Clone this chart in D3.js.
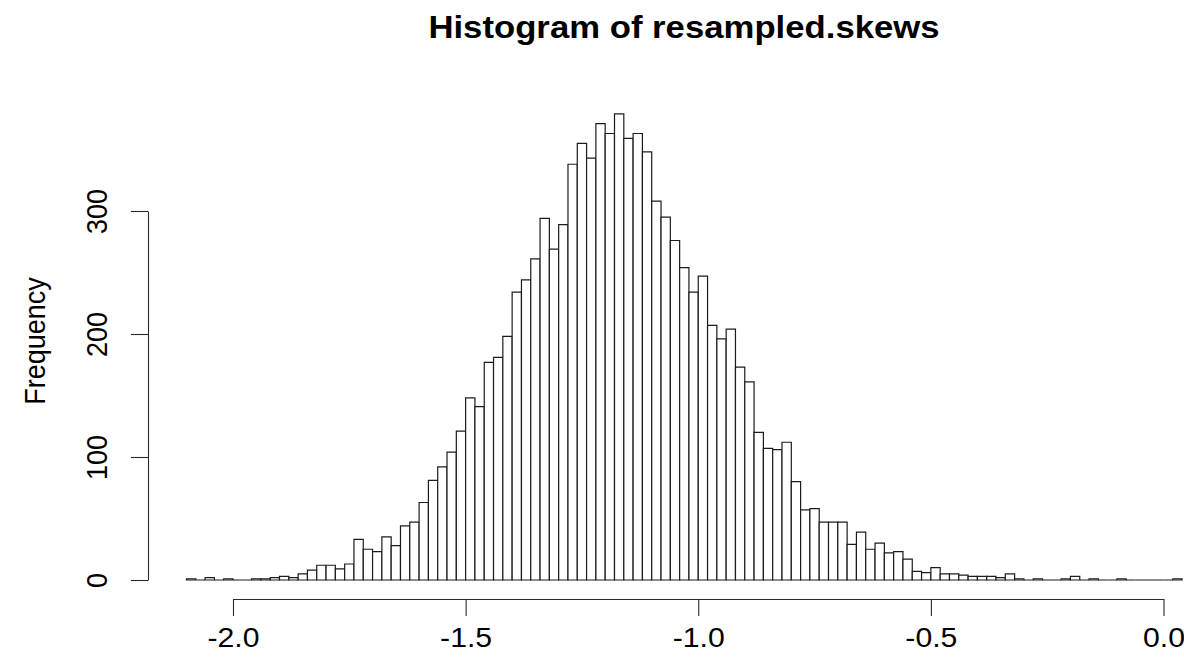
<!doctype html>
<html lang="en">
<head>
<meta charset="utf-8">
<title>Histogram of resampled.skews</title>
<style>
html, body {
	margin: 0;
	padding: 0;
	width: 100%;
	height: 100%;
	overflow: hidden;
	background: #fff;
}
svg {
	display: block;
}
svg text {
	font-family: 'Liberation Sans', Arial, Helvetica, sans-serif;
	fill: #000;
}
.bar {
	fill: #fff;
	stroke: #1c1c1c;
	stroke-width: 1.2px;
}
.axis path, .axis line {
	stroke: #2a2a2a;
	stroke-width: 1.1px;
}
</style>
</head>
<body>
<div id="container"></div>
<script src="https://cdnjs.cloudflare.com/ajax/libs/d3/7.8.5/d3.min.js"></script>
<script>
/* DATA */
var breakStart = -2.1;   // first break
var breakWidth = 0.02;   // R picked 0.02 wide bins
var counts = [
	1, 0, 2, 0, 1, 0, 0, 1, 1, 2,
	3, 2, 5, 8, 12, 12, 9, 13, 33, 25,
	23, 35, 28, 44, 47, 63, 81, 92, 104, 121,
	148, 141, 177, 181, 198, 234, 244, 261, 294, 269,
	289, 338, 355, 343, 371, 363, 379, 359, 363, 348,
	308, 295, 276, 254, 234, 247, 207, 196, 204, 173,
	161, 120, 107, 106, 112, 80, 57, 58, 47, 47,
	47, 29, 39, 25, 30, 22, 23, 17, 7, 6,
	10, 5, 5, 4, 3, 3, 3, 2, 5, 1,
	0, 1, 0, 0, 1, 3, 0, 1, 0, 0,
	1, 0, 0, 0, 0, 0, 1
];
var xTicks = [-2.0, -1.5, -1.0, -0.5, 0.0];
var xTickLabels = ['-2.0', '-1.5', '-1.0', '-0.5', '0.0'];
var yTicks = [0, 100, 200, 300];
var yTickLabels = ['0', '100', '200', '300'];
var titleText = 'Histogram of resampled.skews';
var yLabelText = 'Frequency';

(function (d3) {

	'use strict';

	/* CONST */

	var W = 1184;
	var H = 667;
	var STRETCH = 1.12; // the source image is a little wider than it is tall
	var FONT = 27;

	var AXIS_X_Y = 599;   // x axis sits at bottom of plot region
	var AXIS_Y_X = 148;   // y axis sits at left of plot region
	var TICK = 17;

	/* SCALES */

	var x = d3.scaleLinear().domain([-2, 0]).range([233, 1163.5]);
	var y = d3.scaleLinear().domain([0, 300]).range([580, 211]);

	var bins = counts.map(function (c, i) {
		var x0 = breakStart + i * breakWidth;
		return { x0: x0, x1: x0 + breakWidth, n: c };
	});

	// a path, not a rect, so empty bins still leave their flat line like R
	var barPath = function (d) {
		var path = d3.path();
		path.rect(x(d.x0), y(d.n), x(d.x1) - x(d.x0), y(0) - y(d.n));
		return path.toString();
	};

	/* RENDER */

	var svg = d3.select('#container')
		.append('svg')
			.attr('width', W)
			.attr('height', H);

	svg.append('g')
		.selectAll('path')
		.data(bins)
		.enter()
		.append('path')
			.attr('class', 'bar')
			.attr('d', barPath);

	// x axis
	var gx = svg.append('g')
		.attr('class', 'axis')
		.attr('transform', 'translate(0,' + AXIS_X_Y + ')')
		.call(d3.axisBottom(x)
			.tickValues(xTicks)
			.tickSize(TICK)
			.tickSizeOuter(0)
			.tickFormat(function (d, i) { return xTickLabels[i]; }));
	gx.selectAll('text')
		.attr('font-size', FONT)
		.attr('font-family', null)
		.attr('y', 48)
		.attr('dy', null)
		.attr('transform', 'scale(' + STRETCH + ',1)');

	// y axis, labels turned like R does
	var gy = svg.append('g')
		.attr('class', 'axis')
		.attr('transform', 'translate(' + AXIS_Y_X + ',0)')
		.call(d3.axisLeft(y)
			.tickValues(yTicks)
			.tickSize(TICK)
			.tickSizeOuter(0)
			.tickFormat(function (d, i) { return yTickLabels[i]; }));
	gy.selectAll('text')
		.attr('font-size', FONT)
		.attr('font-family', null)
		.attr('x', null)
		.attr('dy', null)
		.attr('text-anchor', 'middle')
		.attr('transform', 'translate(-41,0) scale(' + STRETCH + ',1) rotate(-90)');

	// title
	svg.append('text')
		.attr('transform', 'translate(684,38) scale(' + STRETCH + ',1)')
		.attr('text-anchor', 'middle')
		.attr('font-size', 31)
		.attr('font-weight', 'bold')
		.text(titleText);

	// y label
	svg.append('text')
		.attr('transform', 'translate(45,341) scale(' + STRETCH + ',1) rotate(-90)')
		.attr('text-anchor', 'middle')
		.attr('font-size', FONT)
		.text(yLabelText);

})(window.d3);
</script>
</body>
</html>
